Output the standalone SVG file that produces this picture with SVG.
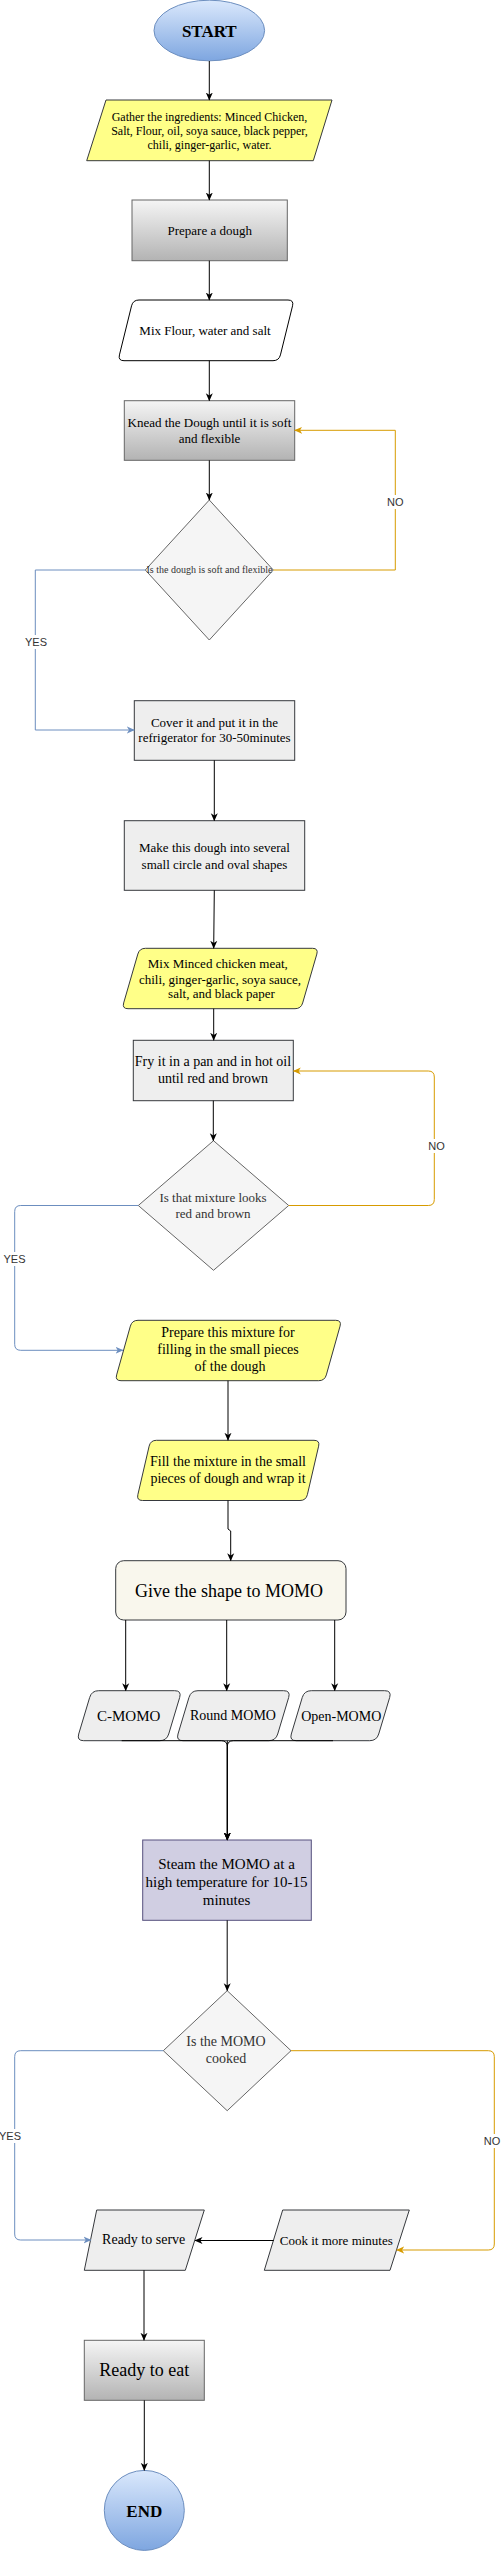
<svg xmlns="http://www.w3.org/2000/svg" width="504" height="2551" viewBox="0 0 504 2551">
<defs>
<linearGradient id="gBlue" x1="0" y1="0" x2="0" y2="1"><stop offset="0" stop-color="#dae8fc"/><stop offset="1" stop-color="#7ea6e0"/></linearGradient>
<linearGradient id="gGray" x1="0" y1="0" x2="0" y2="1"><stop offset="0" stop-color="#f5f5f5"/><stop offset="1" stop-color="#b3b3b3"/></linearGradient>
<marker id="ak" viewBox="0 0 8 8" refX="7.5" refY="4" markerWidth="8" markerHeight="8" markerUnits="userSpaceOnUse" orient="auto"><path d="M0,0.5 L8,4 L0,7.5 L2.2,4 Z" fill="#000"/></marker>
<marker id="ab" viewBox="0 0 8 8" refX="7.5" refY="4" markerWidth="8" markerHeight="8" markerUnits="userSpaceOnUse" orient="auto"><path d="M0,0.5 L8,4 L0,7.5 L2.2,4 Z" fill="#6c8ebf"/></marker>
<marker id="ao" viewBox="0 0 8 8" refX="7.5" refY="4" markerWidth="8" markerHeight="8" markerUnits="userSpaceOnUse" orient="auto"><path d="M0,0.5 L8,4 L0,7.5 L2.2,4 Z" fill="#d79b00"/></marker>
<style>
text{font-family:"Liberation Serif","Times New Roman",serif;text-anchor:middle;fill:#000}
.b{font-weight:bold;font-size:17px}
.term{fill:url(#gBlue);stroke:#6c8ebf;stroke-width:1}
.grad{fill:url(#gGray);stroke:#666666;stroke-width:1}
.yel{fill:#ffff88;stroke:#36393d;stroke-width:1}
.gry{fill:#eeeeee;stroke:#36393d;stroke-width:1}
.dia{fill:#f5f5f5;stroke:#666666;stroke-width:1}
.dt{fill:#333333}
.e{fill:none;stroke:#000;stroke-width:1;marker-end:url(#ak)}
.eb{fill:none;stroke:#6c8ebf;stroke-width:1;marker-end:url(#ab)}
.eo{fill:none;stroke:#d79b00;stroke-width:1;marker-end:url(#ao)}
.lbl{font-family:"Liberation Sans",Arial,sans-serif;font-size:11px;fill:#333333}
.lbg{fill:#ffffff}
</style>
</defs>
<rect width="504" height="2551" fill="#ffffff"/>

<g id="start"><ellipse class="term" cx="209.3" cy="30.5" rx="55.3" ry="30.3"/><text class="b" x="209.3" y="36.5">START</text></g>

<g id="gather"><polygon class="yel" points="106,100 332,100 313.3,160.7 86.7,160.7"/>
<text font-size="12" x="209.5" y="120.5">Gather the ingredients: Minced Chicken,</text>
<text font-size="12" x="209.5" y="134.5">Salt, Flour, oil, soya sauce, black pepper,</text>
<text font-size="12" x="209.5" y="148.5">chili, ginger-garlic, water.</text></g>

<g id="prepare"><rect class="grad" x="132" y="200" width="155.3" height="60.7"/><text font-size="13" x="209.7" y="235">Prepare a dough</text></g>

<g id="mixflour"><path d="M139 300 L288 300 Q294 300 292.56 305.82 L280.44 354.88 Q279 360.7 273 360.7 L124 360.7 Q118 360.7 119.44 354.88 L131.56 305.82 Q133 300 139 300 Z" fill="#ffffff" stroke="#000" stroke-width="1"/><text font-size="13" x="205" y="335">Mix Flour, water and salt</text></g>

<g id="knead"><rect class="grad" x="124.3" y="400.7" width="170.4" height="59.6"/>
<text font-size="13" x="209.5" y="427">Knead the Dough until it is soft</text>
<text font-size="13" x="209.5" y="442.5">and flexible</text></g>

<g id="dec1"><polygon class="dia" points="209.3,500 273.3,570 209.3,640 145.3,570"/><text class="dt" font-size="10" x="209.5" y="573.3">Is the dough is soft and flexible</text></g>

<g id="cover"><rect class="gry" x="134.3" y="700.7" width="160.4" height="59.6"/>
<text font-size="13" x="214.5" y="727">Cover it and put it in the</text>
<text font-size="13" x="214.5" y="742.3">refrigerator for 30-50minutes</text></g>

<g id="make"><rect class="gry" x="124.3" y="820.7" width="180.4" height="69.6"/>
<text font-size="13" x="214.5" y="852.3">Make this dough into several</text>
<text font-size="13" x="214.5" y="868.6">small circle and oval shapes</text></g>

<g id="mixminced"><path class="yel" d="M145.5 948.3 L312.5 948.3 Q318.5 948.3 316.83 954.06 L302.67 1002.94 Q301 1008.7 295 1008.7 L128 1008.7 Q122 1008.7 123.67 1002.94 L137.83 954.06 Q139.5 948.3 145.5 948.3 Z"/>
<text font-size="13" x="217.8" y="967.6">Mix Minced chicken meat,</text>
<text font-size="13" x="220" y="983.6">chili, ginger-garlic, soya sauce,</text>
<text font-size="13" x="221.5" y="998">salt, and black paper</text></g>

<g id="fry"><rect class="gry" x="133.3" y="1040.3" width="160" height="60.4"/>
<text font-size="14" x="213" y="1066.3">Fry it in a pan and in hot oil</text>
<text font-size="14" x="213" y="1083">until red and brown</text></g>

<g id="dec2"><polygon class="dia" points="213.5,1140.7 288.7,1205.5 213.5,1270.3 138.3,1205.5"/>
<text class="dt" font-size="13" x="213" y="1202.3">Is that mixture looks</text>
<text class="dt" font-size="13" x="213" y="1218.3">red and brown</text></g>

<g id="filling"><path class="yel" d="M138 1320.3 L335.7 1320.3 Q341.7 1320.3 340.07 1326.08 L326.33 1374.92 Q324.7 1380.7 318.7 1380.7 L121 1380.7 Q115 1380.7 116.63 1374.92 L130.37 1326.08 Q132 1320.3 138 1320.3 Z"/>
<text font-size="14" x="228" y="1337.3">Prepare this mixture for</text>
<text font-size="14" x="228" y="1354">filling in the small pieces</text>
<text font-size="14" x="230" y="1370.7">of the dough</text></g>

<g id="fill"><path class="yel" d="M156.5 1440.3 L314 1440.3 Q320 1440.3 318.64 1446.14 L307.36 1494.66 Q306 1500.5 300 1500.5 L142.5 1500.5 Q136.5 1500.5 137.86 1494.66 L149.14 1446.14 Q150.5 1440.3 156.5 1440.3 Z"/>
<text font-size="14" x="228" y="1466.3">Fill the mixture in the small</text>
<text font-size="14" x="228" y="1483">pieces of dough and wrap it</text></g>

<g id="shape"><rect x="115.7" y="1560.7" width="230.3" height="59.3" rx="8" fill="#f9f7ed" stroke="#36393d" stroke-width="1"/><text font-size="18" x="229" y="1596.7">Give the shape to MOMO</text></g>

<g id="cmomo"><path class="gry" d="M98.7 1690.7 L174.7 1690.7 Q181.7 1690.7 179.69 1697.4 L168.71 1734 Q166.7 1740.7 159.7 1740.7 L83.7 1740.7 Q76.7 1740.7 78.71 1734 L89.69 1697.4 Q91.7 1690.7 98.7 1690.7 Z"/><text font-size="15" x="128.7" y="1721">C-MOMO</text></g>
<g id="roundmomo"><path class="gry" d="M198 1690.7 L283.7 1690.7 Q290.7 1690.7 288.69 1697.4 L277.71 1734 Q275.7 1740.7 268.7 1740.7 L183 1740.7 Q176 1740.7 178.01 1734 L188.99 1697.4 Q191 1690.7 198 1690.7 Z"/><text font-size="14" x="233" y="1720">Round MOMO</text></g>
<g id="openmomo"><path class="gry" d="M311.3 1690.7 L384.7 1690.7 Q391.7 1690.7 389.69 1697.4 L378.71 1734 Q376.7 1740.7 369.7 1740.7 L296.3 1740.7 Q289.3 1740.7 291.31 1734 L302.29 1697.4 Q304.3 1690.7 311.3 1690.7 Z"/><text font-size="14" x="341.2" y="1721">Open-MOMO</text></g>

<g id="steam"><rect x="142.7" y="1840" width="168.6" height="80.3" fill="#d0cee2" stroke="#56517e" stroke-width="1"/>
<text font-size="15" x="226.5" y="1869">Steam the MOMO at a</text>
<text font-size="15" x="226.5" y="1887.3">high temperature for 10-15</text>
<text font-size="15" x="226.5" y="1905">minutes</text></g>

<g id="dec3"><polygon class="dia" points="227.2,1990.7 291,2050.7 227.2,2110.7 163.3,2050.7"/>
<text class="dt" font-size="14" x="226" y="2046.3">Is the MOMO</text>
<text class="dt" font-size="14" x="226" y="2063">cooked</text></g>

<g id="serve"><polygon class="gry" points="96.7,2210 204.3,2210 185.3,2270.3 84.3,2270.3"/><text font-size="14" x="143.7" y="2244">Ready to serve</text></g>

<g id="cook"><polygon class="gry" points="282.7,2210 409.3,2210 390,2270.3 264.3,2270.3"/><text font-size="13" x="336.3" y="2244.5">Cook it more minutes</text></g>

<g id="eat"><rect class="grad" x="84.3" y="2340.3" width="120" height="60"/><text font-size="18" x="144.3" y="2376">Ready to eat</text></g>

<g id="end"><circle class="term" cx="144.3" cy="2510.4" r="40"/><text class="b" x="144.3" y="2516.5">END</text></g>

<g id="connectors">
<path class="e" d="M209.3 61 L209.3 100"/>
<path class="e" d="M209.3 160.7 L209.3 200"/>
<path class="e" d="M209.3 260.7 L209.3 300"/>
<path class="e" d="M209.3 360.7 L209.3 400.7"/>
<path class="e" d="M209.3 460.3 L209.3 500"/>
<path class="eo" d="M273.3 570 L395.3 570 L395.3 430.3 L294.7 430.3"/>
<path class="eb" d="M145.3 570 L35.3 570 L35.3 730 L134.3 730"/>
<path class="e" d="M214.3 760.3 L214.3 820.7"/>
<path class="e" d="M214.3 890.3 L213.7 948.3"/>
<path class="e" d="M213.7 1008.7 L213.7 1040.3"/>
<path class="e" d="M213.3 1100.7 L213.3 1140.7"/>
<path class="eo" d="M288.7 1205.5 L428.3 1205.5 Q434.3 1205.5 434.3 1199.5 L434.3 1077 Q434.3 1071 428.3 1071 L293.3 1071"/>
<path class="eb" d="M138.3 1205.5 L20.7 1205.5 Q14.7 1205.5 14.7 1211.5 L14.7 1344.3 Q14.7 1350.3 20.7 1350.3 L123 1350.3"/>
<path class="e" d="M228 1380.7 L228 1440.3"/>
<path class="e" d="M228 1500.5 L228 1529 L230.7 1531 L230.7 1560.7"/>
<path class="e" d="M125.7 1620 L125.7 1690.7"/>
<path class="e" d="M226.7 1620 L226.7 1690.7"/>
<path class="e" d="M334.7 1620 L334.7 1690.7"/>
<path class="e" d="M121.7 1740.7 L221.3 1740.7 Q227.3 1740.7 227.3 1746.7 L227.3 1840"/>
<path class="e" d="M227.3 1740.7 L227.3 1840"/>
<path class="e" d="M333 1740.7 L233.3 1740.7 Q227.3 1740.7 227.3 1746.7 L227.3 1840"/>
<path class="e" d="M227.2 1920.3 L227.2 1990.7"/>
<path class="eb" d="M163.3 2050.7 L20.7 2050.7 Q14.7 2050.7 14.7 2056.7 L14.7 2234 Q14.7 2240 20.7 2240 L91 2240"/>
<path class="eo" d="M291 2050.7 L488.3 2050.7 Q494.3 2050.7 494.3 2056.7 L494.3 2244 Q494.3 2250 488.3 2250 L396.7 2250"/>
<path class="e" d="M273.7 2240.5 L195 2240.5"/>
<path class="e" d="M144 2270.3 L144 2340.3"/>
<path class="e" d="M144.3 2400.3 L144.3 2470.4"/>
<rect class="lbg" x="386" y="495" width="19" height="14"/><text class="lbl" x="395.3" y="506">NO</text>
<rect class="lbg" x="25" y="635" width="22" height="14"/><text class="lbl" x="36" y="645.5">YES</text>
<rect class="lbg" x="427" y="1139" width="19" height="14"/><text class="lbl" x="436.5" y="1150">NO</text>
<rect class="lbg" x="4" y="1252" width="22" height="14"/><text class="lbl" x="14.5" y="1263">YES</text>
<rect class="lbg" x="0" y="2129" width="22" height="14"/><text class="lbl" x="10" y="2140">YES</text>
<rect class="lbg" x="483" y="2134" width="19" height="14"/><text class="lbl" x="492" y="2144.5">NO</text>
</g>
</svg>
